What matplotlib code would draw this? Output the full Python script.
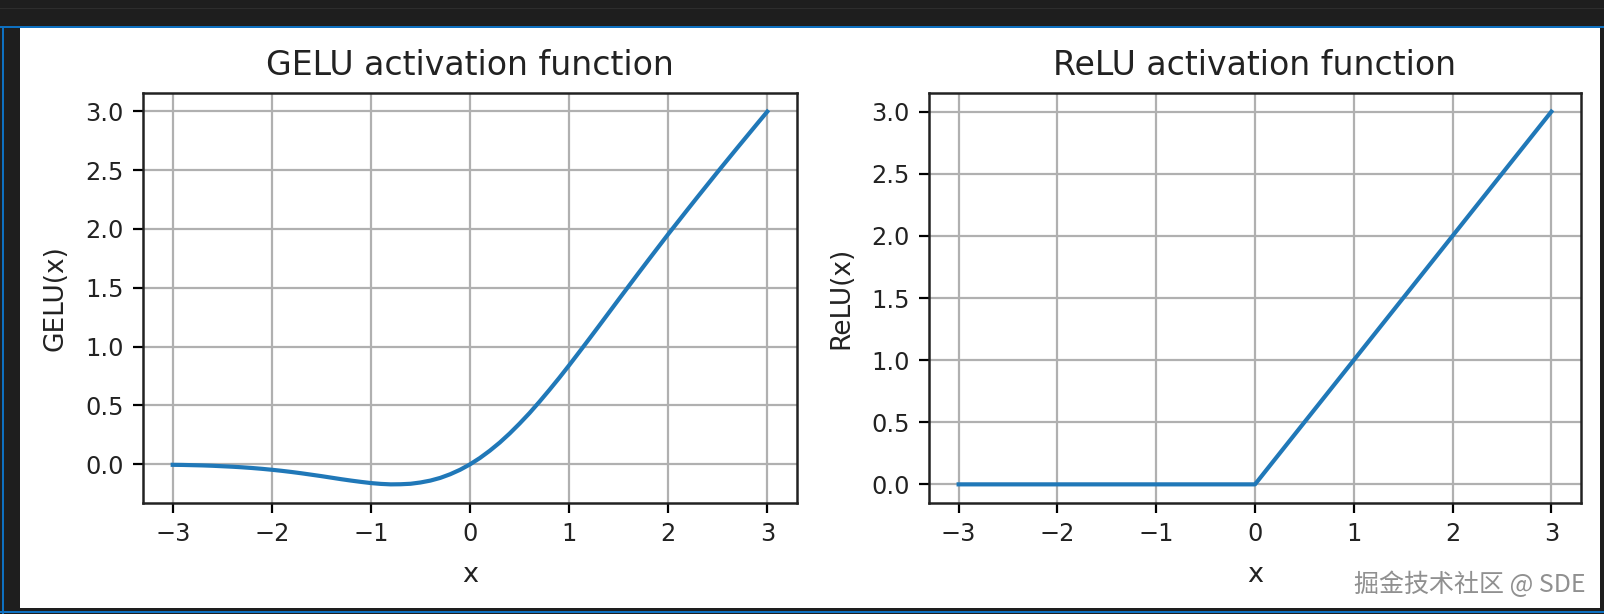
import matplotlib
matplotlib.use("Agg")
import matplotlib.pyplot as plt
from matplotlib.patches import Rectangle

# valeurs
x_gelu = [-3.0, -2.9, -2.8, -2.7, -2.6, -2.5, -2.4, -2.3, -2.2, -2.1,
          -2.0, -1.9, -1.8, -1.7, -1.6, -1.5, -1.4, -1.3, -1.2, -1.1,
          -1.0, -0.9, -0.8, -0.7, -0.6, -0.5, -0.4, -0.3, -0.2, -0.1,
          0.0, 0.1, 0.2, 0.3, 0.4, 0.5, 0.6, 0.7, 0.8, 0.9,
          1.0, 1.1, 1.2, 1.3, 1.4, 1.5, 1.6, 1.7, 1.8, 1.9,
          2.0, 2.1, 2.2, 2.3, 2.4, 2.5, 2.6, 2.7, 2.8, 2.9, 3.0]
y_gelu = [-0.004, -0.005, -0.007, -0.009, -0.012, -0.016, -0.020, -0.025, -0.031, -0.038,
          -0.046, -0.055, -0.065, -0.076, -0.088, -0.100, -0.113, -0.126, -0.138, -0.149,
          -0.159, -0.166, -0.170, -0.169, -0.165, -0.154, -0.138, -0.115, -0.084, -0.046,
          0.0, 0.054, 0.116, 0.185, 0.262, 0.346, 0.435, 0.531, 0.631, 0.734,
          0.841, 0.951, 1.062, 1.174, 1.287, 1.400, 1.512, 1.624, 1.735, 1.845,
          1.955, 2.062, 2.169, 2.275, 2.380, 2.485, 2.588, 2.691, 2.793, 2.895, 2.996]
x_relu = [-3.0, 0.0, 3.0]
y_relu = [0.0, 0.0, 3.0]

titres = ["GELU activation function", "ReLU activation function"]
ylabels = ["GELU(x)", "ReLU(x)"]
filigrane = "掘金技术社区 @ SDE"

W, H = 1604, 614
fig = plt.figure(figsize=(W / 100, H / 100), dpi=100)
fig.patch.set_facecolor("#1e1e1e")


def rect(x, y, w, h, couleur):
    # rectangle en pixels (origine en haut à gauche), derrière les axes
    fig.patches.append(Rectangle((x / W, 1 - (y + h) / H), w / W, h / H,
                                 transform=fig.transFigure, facecolor=couleur,
                                 edgecolor="none", zorder=-10))


# fond de la capture d'écran
rect(0, 8, W, 1, "#2d2d2d")
rect(0, 26, W, 2, "#0e70c0")
rect(2, 26, 2, H - 26, "#0e70c0")
rect(0, 611, W, 2, "#0e70c0")
rect(20, 28, 1580, 580, "white")

positions = [(143, 654), (929, 652)]
donnees = [(x_gelu, y_gelu), (x_relu, y_relu)]

for (x0, w), (xs, ys), titre, yl in zip(positions, donnees, titres, ylabels):
    ax = fig.add_axes([x0 / W, 1 - 503 / H, w / W, 410 / H])
    ax.plot(xs, ys, color="#2078b8", linewidth=3)
    ax.set_title(titre, fontsize=23.9, pad=13, color="#222222")
    ax.set_xlabel("x", fontsize=19.5, labelpad=11, color="#222222")
    ax.set_ylabel(yl, fontsize=19, labelpad=12, color="#222222")
    ax.set_xticks([-3, -2, -1, 0, 1, 2, 3])
    ax.tick_params(labelsize=17.3, length=7, width=1.6, pad=7, labelcolor="#222222")
    ax.grid(True, color="#b0b0b0", linewidth=1.6)
    for s in ax.spines.values():
        s.set_linewidth(1.8)
        s.set_color("#222222")

fig.text(1586 / W, 1 - 592 / H, filigrane, ha="right", va="baseline", fontsize=18,
         color="#909090", family=["Noto Sans CJK SC", "DejaVu Sans"])

fig.savefig("out.png", dpi=100, facecolor=fig.get_facecolor())
